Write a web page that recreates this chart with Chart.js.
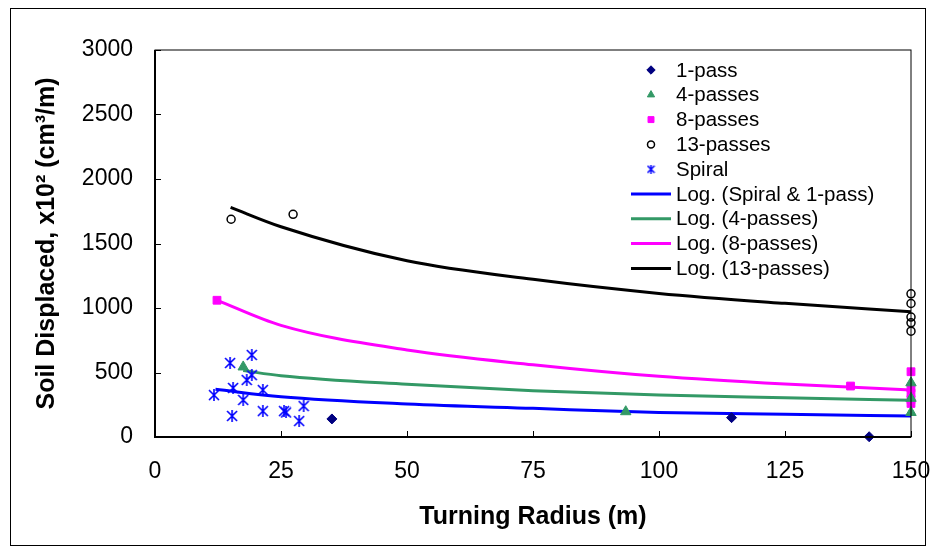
<!DOCTYPE html>
<html>
<head>
<meta charset="utf-8">
<script src="https://cdn.jsdelivr.net/npm/chart.js@4.4.1/dist/chart.umd.min.js"></script>
<style>
  html, body { margin: 0; padding: 0; background: #fff; }
</style>
</head>
<body>
<canvas id="myChart" width="937" height="554"></canvas>
<script>
// measured points
const onePassX = [35.1, 114.4, 141.7];
const onePassY = [140, 150, 2];

const fourPassX = [17.5, 93.4, 150, 150, 150];
const fourPassY = [543, 196, 420, 300, 190];

const eightPassX = [12.3, 138, 150, 150, 150, 150, 150];
const eightPassY = [1060, 395, 506, 380, 340, 290, 260];

const thirteenPassX = [15.1, 27.4, 150, 150, 150, 150, 150];
const thirteenPassY = [1688, 1726, 1110, 1035, 930, 885, 820];

const spiralX = [11.7, 14.9, 15.3, 15.5, 17.5, 18.2, 19.2, 19.2, 21.4, 21.4, 25.6, 26.0, 28.6, 29.5];
const spiralY = [325, 574, 163, 380, 287, 442, 636, 480, 364, 201, 201, 190, 124, 240];

// trend lines
const spiralTrendX = [12, 25, 50, 75, 100, 125, 150];
const spiralTrendY = [370, 312, 256, 222, 190, 176, 163];
const fourTrendX = [17.5, 25, 50, 75, 100, 125, 150];
const fourTrendY = [515, 475, 408, 359, 326, 305, 285];
const eightTrendX = [12, 25, 50, 75, 100, 125, 150];
const eightTrendY = [1065, 865, 674, 560, 470, 410, 365];
const thirteenTrendX = [15, 25, 50, 75, 100, 125, 150];
const thirteenTrendY = [1780, 1630, 1366, 1222, 1113, 1036, 971];

const xTicks = [0, 25, 50, 75, 100, 125, 150];
const yTicks = [0, 500, 1000, 1500, 2000, 2500, 3000];

const FONT = "'Liberation Sans', Arial, sans-serif";

function pts(xs, ys) {
    return xs.map((x, i) => ({ x: x, y: ys[i] }));
}

// asterisk marker like excel
function makeStar(size, color, lw) {
    let c = document.createElement('canvas');
    c.width = size; c.height = size;
    let g = c.getContext('2d');
    g.strokeStyle = color;
    g.lineWidth = lw;
    let m = 1, h = size / 2;
    g.beginPath();
    g.moveTo(m, m); g.lineTo(size - m, size - m);
    g.moveTo(size - m, m); g.lineTo(m, size - m);
    g.moveTo(h, 0); g.lineTo(h, size);
    g.stroke();
    return c;
}
const starBig = makeStar(12, '#0000FF', 1.6);
const starSmall = makeStar(9, '#0000FF', 1.5);

function scatterSet(label, xs, ys, style, radius, fill, border, bw) {
    return {
        type: 'scatter', label: label, data: pts(xs, ys),
        pointStyle: style, pointRadius: radius, pointHoverRadius: radius,
        backgroundColor: fill, borderColor: border, borderWidth: bw, showLine: false
    };
}
function trendSet(label, xs, ys, color) {
    return {
        type: 'line', label: label, data: pts(xs, ys),
        borderColor: color, backgroundColor: color, borderWidth: 3,
        pointRadius: 0, cubicInterpolationMode: 'monotone', fill: false
    };
}

const datasets = [
    scatterSet('1-pass', onePassX, onePassY, 'rectRot', 5, '#000080', '#000080', 1),
    scatterSet('4-passes', fourPassX, fourPassY, 'triangle', 6, '#339966', '#339966', 1),
    scatterSet('8-passes', eightPassX, eightPassY, 'rect', 5.5, '#FF00FF', '#FF00FF', 1),
    scatterSet('13-passes', thirteenPassX, thirteenPassY, 'circle', 4, 'rgba(0,0,0,0)', '#000000', 1.5),
    scatterSet('Spiral', spiralX, spiralY, starBig, 6, '#0000FF', '#0000FF', 1),
    trendSet('Log. (Spiral & 1-pass)', spiralTrendX, spiralTrendY, '#0000FF'),
    trendSet('Log. (4-passes)', fourTrendX, fourTrendY, '#339966'),
    trendSet('Log. (8-passes)', eightTrendX, eightTrendY, '#FF00FF'),
    trendSet('Log. (13-passes)', thirteenTrendX, thirteenTrendY, '#000000')
];

// frame, inner tick marks and the legend
const decorPlugin = {
    id: 'decor',
    beforeDraw(chart) {
        const ctx = chart.ctx;
        ctx.save();
        ctx.fillStyle = '#fff';
        ctx.fillRect(0, 0, chart.width, chart.height);
        ctx.strokeStyle = '#000';
        ctx.lineWidth = 1;
        ctx.strokeRect(10.5, 8.5, 915, 537);
        ctx.restore();
    },
    afterDraw(chart) {
        const ctx = chart.ctx;
        const a = chart.chartArea;
        const xs = chart.scales.x, ys = chart.scales.y;
        ctx.save();
        ctx.strokeStyle = '#000';
        ctx.lineWidth = 1;
        ctx.strokeRect(a.left, a.top, a.right - a.left, a.bottom - a.top);
        ctx.lineWidth = 2;
        ctx.beginPath();
        ctx.moveTo(a.left, a.top);
        ctx.lineTo(a.left, a.bottom);
        ctx.lineTo(a.right, a.bottom);
        ctx.stroke();
        ctx.lineWidth = 1;
        ctx.beginPath();
        xTicks.forEach(v => {
            let px = Math.round(xs.getPixelForValue(v)) + 0.5;
            ctx.moveTo(px, a.bottom); ctx.lineTo(px, a.bottom - 6);
        });
        yTicks.forEach(v => {
            let py = Math.round(ys.getPixelForValue(v)) + 0.5;
            ctx.moveTo(a.left, py); ctx.lineTo(a.left + 6, py);
        });
        ctx.stroke();

        // legend
        ctx.font = '20.5px ' + FONT;
        ctx.textBaseline = 'middle';
        ctx.fillStyle = '#000';
        chart.data.datasets.forEach((ds, i) => {
            let y = 70 + i * 24.8;
            if (ds.type === 'scatter') {
                ctx.save();
                ctx.fillStyle = ds.backgroundColor;
                ctx.strokeStyle = ds.borderColor;
                ctx.lineWidth = ds.borderWidth;
                let style = ds.pointStyle === starBig ? starSmall : ds.pointStyle;
                let r = ds.pointStyle === 'circle' ? 3.5 : 4.2;
                Chart.helpers.drawPoint(ctx, { pointStyle: style, radius: r, rotation: 0, borderWidth: ds.borderWidth }, 651, y);
                ctx.restore();
            } else {
                ctx.save();
                ctx.strokeStyle = ds.borderColor;
                ctx.lineWidth = 3;
                ctx.beginPath();
                ctx.moveTo(631, y); ctx.lineTo(671, y);
                ctx.stroke();
                ctx.restore();
            }
            ctx.fillStyle = '#000';
            ctx.fillText(ds.label, 676, y + 1);
        });
        ctx.restore();
    }
};

new Chart(document.getElementById('myChart'), {
    type: 'scatter',
    data: { datasets: datasets },
    plugins: [decorPlugin],
    options: {
        responsive: false,
        animation: false,
        clip: false,
        layout: { padding: { left: 0, right: 26, top: 50, bottom: 0 } },
        plugins: {
            legend: { display: false },
            tooltip: { enabled: false }
        },
        scales: {
            x: {
                type: 'linear', min: 0, max: 150,
                afterFit: (s) => { s.height = 117; s.paddingLeft = 0; s.paddingRight = 0; },
                grid: { display: false, drawTicks: false },
                border: { display: false },
                ticks: {
                    stepSize: 25, padding: 21, color: '#000', font: { family: FONT, size: 23 },
                    callback: (v) => String(v)
                },
                title: {
                    display: true, text: 'Turning Radius (m)', color: '#000',
                    padding: { top: 0, bottom: 22 },
                    font: { family: FONT, size: 25, weight: 'bold' }
                }
            },
            y: {
                type: 'linear', min: 0, max: 3000,
                afterFit: (s) => { s.width = 155; s.paddingTop = 0; s.paddingBottom = 0; },
                grid: { display: false, drawTicks: false },
                border: { display: false },
                ticks: {
                    stepSize: 500, padding: 22, color: '#000', font: { family: FONT, size: 23 },
                    callback: (v) => String(v)
                },
                title: {
                    display: true, text: 'Soil Displaced, x10\u00B2 (cm\u00B3/m)', color: '#000',
                    padding: { top: 32, bottom: 0 },
                    font: { family: FONT, size: 25, weight: 'bold' }
                }
            }
        }
    }
});
</script>
</body>
</html>
